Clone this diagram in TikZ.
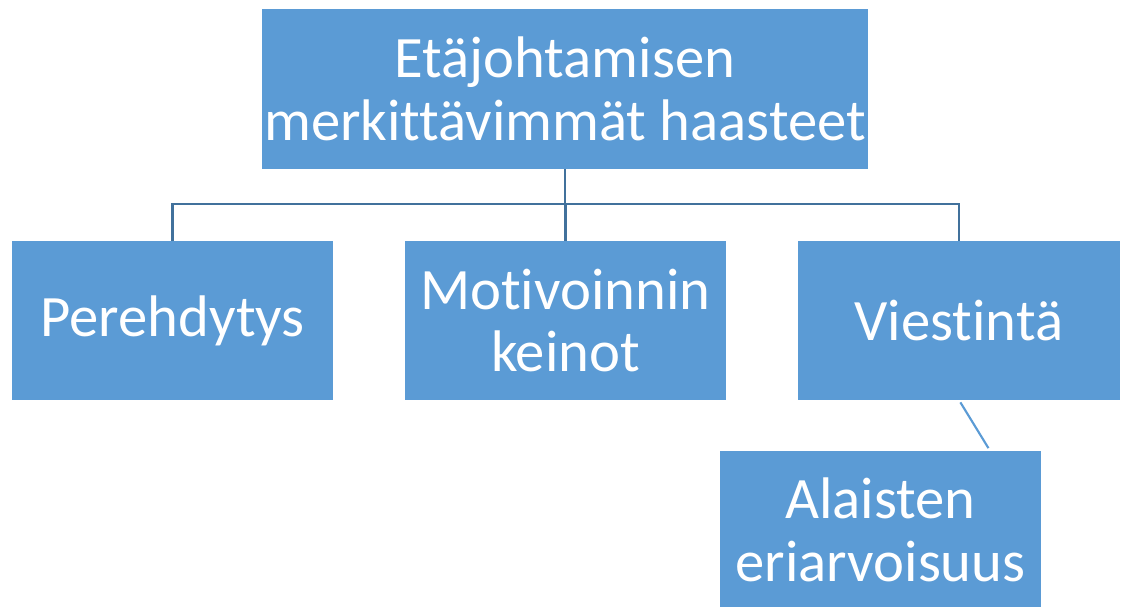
\documentclass[tikz,border=0pt]{standalone}
\usepackage{fontspec}
\setmainfont[RawFeature={-liga;-clig;-dlig}]{Carlito}
\usepackage{tikz}
\usetikzlibrary{positioning,calc}
\definecolor{boxblue}{RGB}{91,155,213}
\definecolor{lineblue}{RGB}{65,113,156}

\begin{document}
\begin{tikzpicture}[x=0.75pt,y=-0.75pt,
    box/.style={rectangle,fill=boxblue,text=white,align=center,inner sep=0pt,
      minimum width=241pt,minimum height=119pt,font=\fontsize{44}{47}\selectfont},
    tree/.style={draw=lineblue,line width=1.6pt}]
    \useasboundingbox (0,0) rectangle (1122,607);

    \node[box,minimum width=455pt,minimum height=120pt] (goal) at (565,89) {Etäjohtamisen\\merkittävimmät haasteet};
    \node[box] (pere) at (172.5,320.5) {Perehdytys};
    \node[box] (moti) at (565.5,320.5) {Motivoinnin\\keinot};
    \node[box] (vies) at (959,320.5) {Viestintä};
    \node[box] (alai) at (880.5,530) {Alaisten\\eriarvoisuus};

    % Tree lines
    \draw[tree] (goal.south) -- ++(0,35) -| (pere.north);
    \draw[tree] (goal.south) -- ++(0,35) -| (moti.north);
    \draw[tree] (goal.south) -- ++(0,35) -| (vies.north);
    \draw[draw=boxblue,line width=1.6pt,shorten <=2pt,shorten >=2pt] (vies.south) -- ([xshift=82pt]alai.north);
\end{tikzpicture}
\end{document}
